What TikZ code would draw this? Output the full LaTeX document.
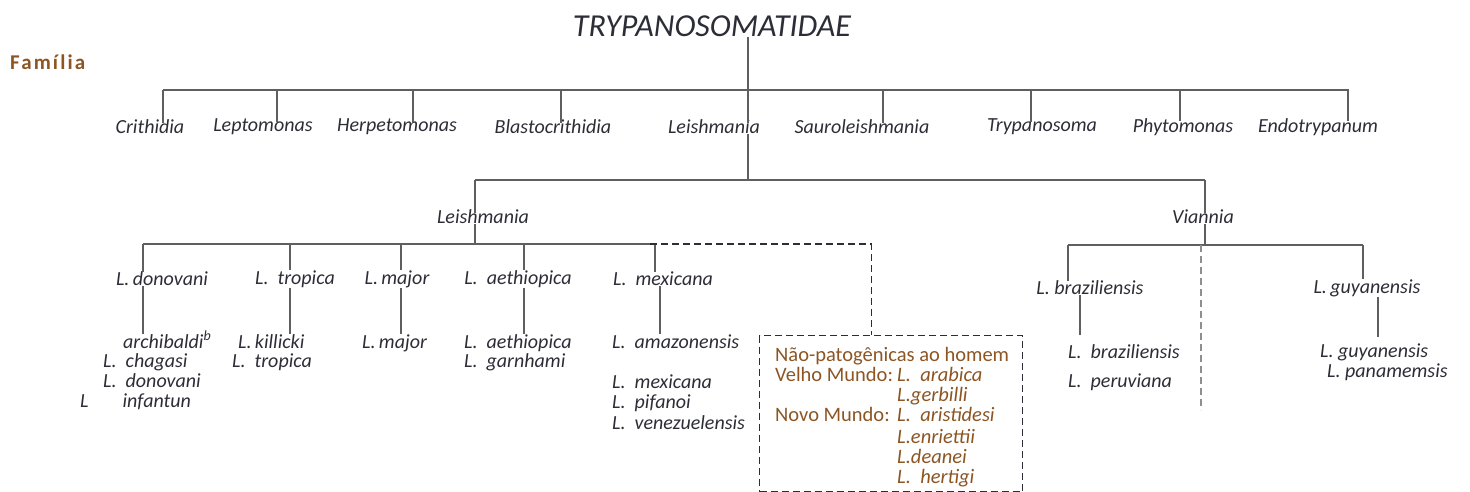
\documentclass[tikz,border=0pt]{standalone}
\usepackage{fontspec}
\setmainfont{Carlito}
\definecolor{tronco}{RGB}{45,45,55}
\definecolor{marrom}{RGB}{140,85,35}
\definecolor{linha}{RGB}{95,95,95}
\tikzset{
  taxon/.style={font=\fontsize{20}{22}\selectfont\itshape,text=tronco,inner sep=0pt},
  especie/.style={taxon,anchor=west,text height=11pt,text depth=3pt,yshift=-2pt},
  nota/.style={font=\fontsize{20.5}{22}\selectfont,text=marrom,inner sep=0pt,anchor=west,text height=11pt,text depth=3pt,yshift=-2pt},
  notait/.style={nota,font=\fontsize{20.5}{22}\selectfont\itshape},
  ramo/.style={linha,line width=1.2pt},
  pontilhado/.style={ramo,dash pattern=on 7pt off 4pt}
}
\begin{document}
\begin{tikzpicture}[x=1pt,y=-1pt]
      \useasboundingbox (0,0) rectangle (1470,491) ;
      \node[font=\fontsize{32}{34}\selectfont\itshape,text=tronco,inner sep=0pt] (tryp) at (712,26) {TRYPANOSOMATIDAE} ;
      \node[font=\fontsize{21}{23}\selectfont\bfseries\addfontfeature{LetterSpace=10},text=marrom,inner sep=0pt,anchor=west] (familia) at (10,62) {Família} ;
      \node[taxon] (crit) at (150,127) {Crithidia} ;
      \node[taxon] (lept) at (263,127) {Leptomonas} ;
      \node[taxon] (herp) at (397,127) {Herpetomonas} ;
      \node[taxon] (blas) at (553,127) {Blastocrithidia} ;
      \node[taxon] (leish) at (714,127) {Leishmania} ;
      \node[taxon] (saur) at (862,127) {Sauroleishmania} ;
      \node[taxon] (trypa) at (1042,127) {Trypanosoma} ;
      \node[taxon] (phyt) at (1183,127) {Phytomonas} ;
      \node[taxon] (endo) at (1318,127) {Endotrypanum} ;
      \coordinate (famA) at (163,90) ;
      \coordinate (famB) at (1349,90) ;
      \coordinate (topo) at (748,90) ;
      \draw[ramo] (tryp.south -| topo) -- (topo) ;
      \draw[ramo] (famA) -- (famB) ;
      \foreach \n/\x in {crit/163,lept/277,herp/413,blas/561,leish/748,saur/883,trypa/1031,phyt/1180,endo/1348}
        {\coordinate (d) at (\x,90) ; \draw[ramo] (d) -- ([yshift=-3pt]d |- \n.north) ;}
      \node[taxon] (subL) at (483,217) {Leishmania} ;
      \node[taxon] (vian) at (1203,217) {Viannia} ;
      \coordinate (subA) at (475,180) ;
      \coordinate (subB) at (1205,180) ;
      \draw[ramo] (leish.south -| topo) -- (subA -| topo) ;
      \draw[ramo] (subA) -- (subB) ;
      \draw[ramo] (subA) -- ([yshift=-3pt]subA |- subL.north) ;
      \draw[ramo] (subB) -- ([yshift=-3pt]subB |- vian.north) ;
      \node[taxon] (don) at (162,279) {L.\,donovani} ;
      \node[taxon] (trop) at (295,279) {L.\ \ tropica} ;
      \node[taxon] (maj) at (397,279) {L.\,major} ;
      \node[taxon] (aeth) at (518,279) {L.\ \ aethiopica} ;
      \node[taxon] (mex) at (663,279) {L.\ \ mexicana} ;
      \coordinate (espA) at (143,244) ;
      \coordinate (espB) at (650,244) ;
      \draw[ramo] (subA |- subL.south) -- (subA |- espA) ;
      \draw[ramo] (espA) -- (espB) ;
      \foreach \n/\x in {don/143,trop/290,maj/401,aeth/524,mex/655}
        {\coordinate (d) at (\x,244) ; \draw[ramo] (d) -- (d |- \n.north) ;}
      \node[draw=tronco,pontilhado,draw=tronco,minimum width=263pt,minimum height=156pt,inner sep=0pt,anchor=north west] (caixa) at (759,335) {} ;
      \draw[pontilhado,tronco] (espB) -| ([xshift=-20pt]caixa.north) ;
      \node[especie] (archi) at (123,342) {archibaldi\textsuperscript{b}} ;
      \node[especie] (chag) at (103,361) {L.\ \ chagasi} ;
      \node[especie] (donsub) at (103,381) {L.\ \ donovani} ;
      \node[especie] (infa) at (80,401) {L\hspace{34pt}infantun} ;
      \node[especie] (kill) at (238,342) {L.\,killicki} ;
      \node[especie] (tropsub) at (232,361) {L.\ \ tropica} ;
      \node[especie] (majsub) at (362,342) {L.\,major} ;
      \node[especie] (aethsub) at (464,342) {L.\ \ aethiopica} ;
      \node[especie] (garn) at (464,361) {L.\ \ garnhami} ;
      \node[especie] (amaz) at (612,342) {L.\ \ amazonensis} ;
      \node[especie] (mexsub) at (612,382) {L.\ \ mexicana} ;
      \node[especie] (pifa) at (612,402) {L.\ \ pifanoi} ;
      \node[especie] (vene) at (612,423) {L.\ \ venezuelensis} ;
      \foreach \n/\m/\x in {don/archi/143,trop/kill/290,maj/majsub/401,aeth/aethsub/524,mex/amaz/660}
        {\coordinate (d) at (\x,0) ; \draw[ramo] (d |- \n.south) -- ([yshift=3pt]d |- \m.north) ;}
      \node[nota] (naop) at (775,355) {Não-patogênicas ao homem} ;
      \node[nota] (velho) at (775,375) {Velho Mundo:} ;
      \node[notait] (arab) at (897,375) {L.\ \ arabica} ;
      \node[notait] (gerb) at (897,395) {L.gerbilli} ;
      \node[nota] (novo) at (775,415) {Novo Mundo:} ;
      \node[notait] (aris) at (897,415) {L.\ \ aristidesi} ;
      \node[notait] (enri) at (897,437) {L.enriettii} ;
      \node[notait] (dean) at (897,457) {L.deanei} ;
      \node[notait] (hert) at (897,477) {L.\ \ hertigi} ;
      \node[taxon] (braz) at (1090,288) {L.\ braziliensis} ;
      \node[taxon] (guy) at (1367,288) {L.\,guyanensis} ;
      \coordinate (viaA) at (1068,245) ;
      \coordinate (viaB) at (1363,245) ;
      \coordinate (viaC) at (1201,245) ;
      \coordinate (viaD) at (1201,410) ;
      \draw[ramo] (subB |- vian.south) -- (subB |- viaA) ;
      \draw[ramo] (viaA) -- (viaB) ;
      \draw[ramo] (viaA) -- (viaA |- braz.north) ;
      \draw[ramo] (viaB) -- (viaB |- guy.north) ;
      \draw[pontilhado,linha!70] (viaC) -- (viaD) ;
      \node[especie] (brazsub) at (1068,352) {L.\ \ braziliensis} ;
      \node[especie] (peru) at (1068,381) {L.\ \ peruviana} ;
      \node[especie] (guysub) at (1320,351) {L.\ guyanensis} ;
      \node[especie] (pana) at (1327,371) {L.\ panamemsis} ;
      \draw[ramo] (braz.south -| 1080,0) -- (1080,335) ;
      \draw[ramo] (guy.south -| 1378,0) -- (1378,337) ;
    \end{tikzpicture}
\end{document}
